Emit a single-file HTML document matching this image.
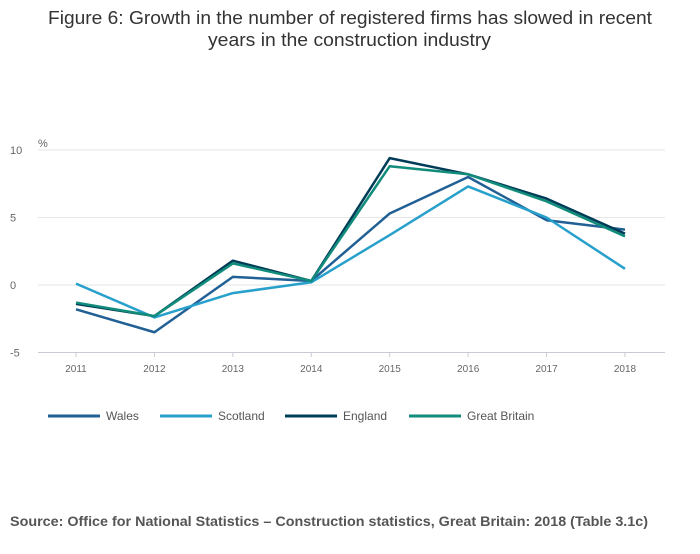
<!DOCTYPE html>
<html><head><meta charset="utf-8"><style>
body{margin:0;width:700px;height:549px;background:#fff;font-family:"Liberation Sans",sans-serif;overflow:hidden}
svg text{font-family:"Liberation Sans",sans-serif}
</style></head><body>
<svg width="700" height="549">
<text x="48" y="24" textLength="604" lengthAdjust="spacingAndGlyphs" font-size="18" fill="#333">Figure 6: Growth in the number of registered firms has slowed in recent</text>
<text x="208" y="46" textLength="283" lengthAdjust="spacingAndGlyphs" font-size="18" fill="#333">years in the construction industry</text>
<text x="38" y="147" font-size="11" fill="#666">%</text>
<g id="grid"></g><g id="xaxis"></g><g id="lines"></g><g id="legend"></g>
<text x="10" y="526" textLength="638" lengthAdjust="spacingAndGlyphs" font-size="14" font-weight="bold" fill="#555">Source: Office for National Statistics – Construction statistics, Great Britain: 2018 (Table 3.1c)</text>
</svg>
<script>
const years=[2011,2012,2013,2014,2015,2016,2017,2018];
const yTicks=[10,5,0,-5];
const wales=[-1.8,-3.5,0.6,0.3,5.3,8.0,4.8,4.1];
const scotland=[0.1,-2.4,-0.6,0.2,3.7,7.3,5.0,1.2];
const england=[-1.4,-2.3,1.8,0.3,9.4,8.2,6.4,3.8];
const gb=[-1.3,-2.3,1.6,0.3,8.8,8.2,6.2,3.6];
const names=["Wales","Scotland","England","Great Britain"];
const series=[wales,scotland,england,gb];
const colors=["#206095","#27a0cc","#003c57","#118c7b"];
const NS="http://www.w3.org/2000/svg";
const X=i=>76+i*(625-76)/(years.length-1);
const Y=v=>285-v*13.5;
function mk(t,a,p){const e=document.createElementNS(NS,t);for(const k in a)e.setAttribute(k,a[k]);p.appendChild(e);return e;}
const grid=document.getElementById('grid');
yTicks.forEach(t=>{
 const l=mk('line',{x1:38,x2:665,y1:Y(t),y2:Y(t),stroke:t===-5?'#c8cbd6':'#e6e6e6','stroke-width':1},grid);
 
 
 const tx=mk('text',{x:10,y:Y(t)+4,'font-size':11,fill:'#666'},grid);tx.textContent=t;
 
 
});
const xa=document.getElementById('xaxis');
years.forEach((y,i)=>{
 const l=mk('line',{x1:X(i),x2:X(i),y1:352,y2:357,stroke:'#c8cbd6'},xa);
 
 
 const t=mk('text',{x:X(i),y:372,'font-size':10,fill:'#666','text-anchor':'middle'},xa);t.textContent=y;
 
 
});
const lg=document.getElementById('lines');
series.forEach((s,k)=>{
 const p=mk('polyline',{points:s.map((v,i)=>X(i)+','+Y(v)).join(' '),fill:'none',stroke:colors[k],'stroke-width':2.5,'stroke-linejoin':'round'},lg);
 
 
});
const leg=document.getElementById('legend');
const lx=[48,160,285,409];
names.forEach((n,k)=>{
 const l=mk('line',{x1:lx[k],x2:lx[k]+52,y1:416,y2:416,stroke:colors[k],'stroke-width':3},leg);
 
 
 const t=mk('text',{x:lx[k]+58,y:420,'font-size':12,fill:'#555'},leg);t.textContent=n;
 
 
});
</script>
</body></html>
